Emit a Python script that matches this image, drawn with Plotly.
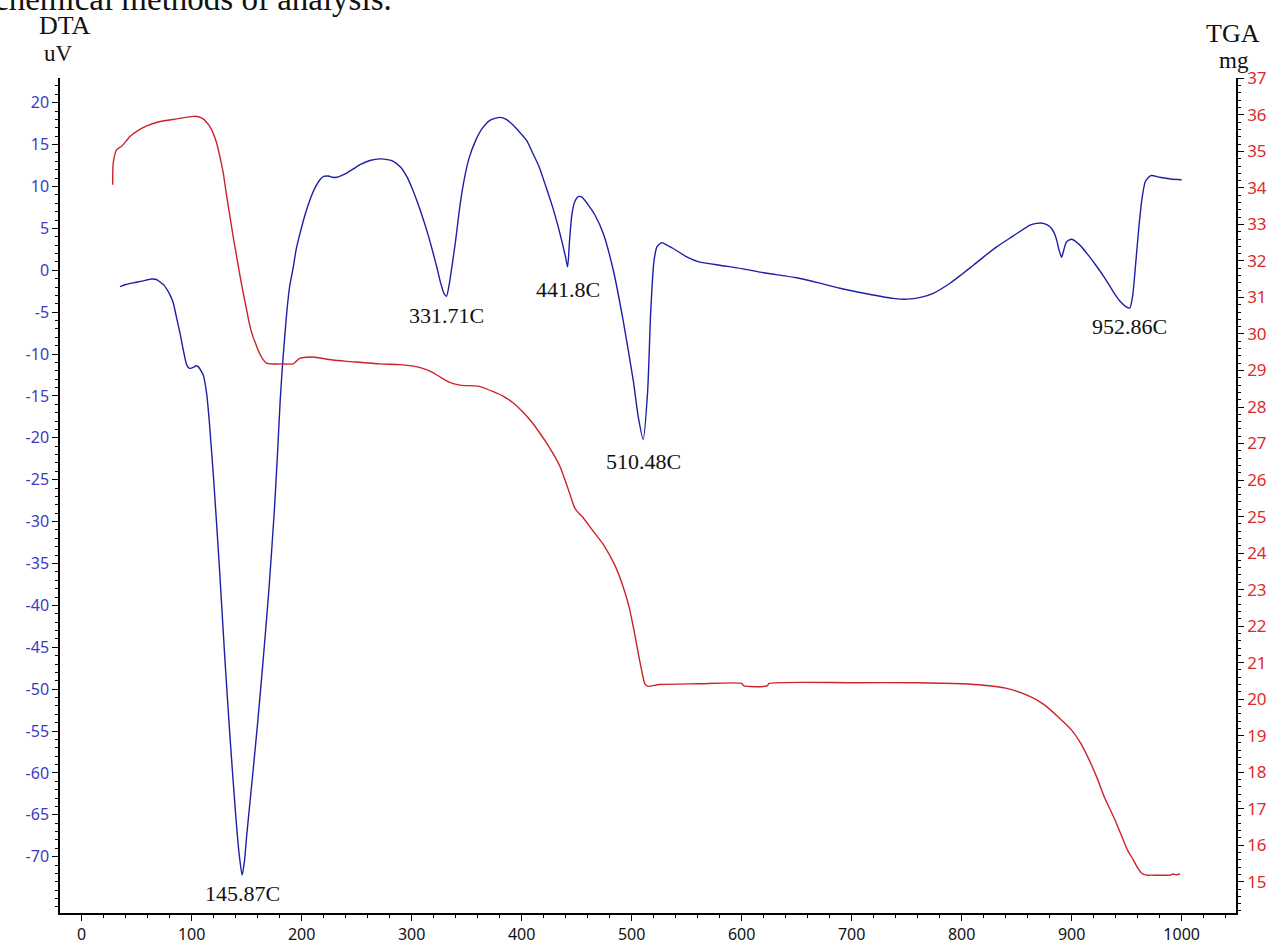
import plotly.graph_objects as go

# ---- DTA signal (uV) vs temperature (C) ----
dta_temp = [34.8, 40, 46.9, 55, 63.6, 68, 71.2, 75, 77.8, 80.5, 83.3, 86, 89.4, 92.5, 95.5, 98,
            101.5, 104, 106, 108.5, 110.5, 113.6, 116, 120, 125, 130, 135, 140, 143, 145.87,
            148, 150, 153, 156, 160, 165, 170, 175, 178, 180.5, 182.7, 186.4, 189, 192.4, 195,
            198.5, 203, 207.5, 212, 216.6, 220, 224.2, 228, 231.8, 236, 240.9, 247, 253, 262,
            271.2, 278, 283.3, 290, 295.5, 300, 305, 310, 315, 319, 323, 326.5, 329.5, 331.71,
            334, 337, 340, 344, 348, 352, 358.2, 364, 371.2, 380.3, 386, 392.4, 398, 404.5,
            410, 416, 422, 428, 433, 437, 440, 441.8, 443.5, 445.5, 448, 451.5, 455, 460,
            466.6, 474.2, 483.3, 492.4, 501.5, 506, 510.48, 514.5, 517.3, 520.2, 523, 527.3,
            532, 537.8, 550, 561.2, 580, 600, 620, 650, 670, 689.4, 713.6, 737.8, 750, 763.6,
            774.2, 789.4, 800, 810.6, 820, 831.8, 847, 862.1, 868, 874.2, 880.3, 884, 886.4,
            888.5, 890.9, 893, 895.4, 900, 907.5, 915.1, 922, 930, 938, 944, 949, 952.86,
            955.5, 958, 961, 964, 967, 972, 980, 990, 1000]
dta_uv = [-1.96, -1.7, -1.5, -1.3, -1.05, -1.1, -1.4, -1.8, -2.35, -3.0, -3.9, -5.5, -7.5, -9.6,
          -11.3, -11.7, -11.6, -11.4, -11.5, -12.0, -12.5, -14.7, -18, -25, -35, -46, -56, -65,
          -69.5, -72.2, -70.5, -67.5, -63.5, -59.5, -54, -46.5, -38.5, -29, -22, -15.5, -11.1,
          -5.1, -2, 0.4, 2.5, 4.4, 6.6, 8.4, 9.8, 10.8, 11.2, 11.25, 11.1, 11.1, 11.3, 11.6,
          12.1, 12.6, 13.1, 13.3, 13.2, 13.0, 12.3, 11.2, 9.9, 8.2, 6.3, 4.2, 2.3, 0.3, -1.6,
          -2.8, -3.1, -1.8, 0.8, 3.6, 7.8, 11.0, 13.3, 15.5, 16.9, 17.9, 18.25, 18.0, 17.3,
          16.5, 15.5, 14.0, 12.3, 10.0, 7.6, 5.3, 3.2, 1.5, 0.4, 3.5, 6.5, 8.1, 8.8, 8.7, 7.9,
          6.6, 4.4, 0.0, -6.1, -13.2, -17.5, -20.2, -14.5, -5.0, 1.0, 2.8, 3.3, 3.0, 2.6, 1.6,
          1.0, 0.6, 0.2, -0.3, -0.9, -1.5, -2.15, -2.8, -3.35, -3.45, -3.2, -2.75, -1.55, -0.5,
          0.6, 1.6, 2.8, 4.1, 5.4, 5.6, 5.6, 5.2, 4.5, 3.6, 2.4, 1.55, 2.5, 3.4, 3.7, 3.0,
          1.8, 0.6, -0.9, -2.6, -3.7, -4.3, -4.5, -3.0, 0.5, 5.0, 8.6, 10.6, 11.3, 11.1,
          10.9, 10.8]

# ---- TGA mass (mg) vs temperature (C) ----
tga_temp = [28.2, 28.7, 31.8, 36.4, 43.9, 50, 59.1, 71.2, 86.4, 101.5, 106, 110.5, 113.5,
            116.6, 119.5, 122.7, 125.7, 128.7, 131.7, 134.8, 137.8, 140.9, 143.9, 146.9, 150,
            153, 156, 159.1, 162, 165.1, 168, 171.2, 180, 192.4, 195, 198.5, 210.5, 225,
            240.9, 255, 271.2, 289.4, 301.5, 310, 318, 326, 334, 343.9, 356, 362.1,
            374.2, 383, 392.4, 400, 407.5, 415, 422.7, 429, 434.8, 439.4, 444, 448, 451, 455,
            465, 475, 485, 492, 497, 502, 506, 509, 512, 515, 525, 560, 600, 602, 623, 625,
            700, 760, 800, 820, 840, 860, 875, 890, 900, 908, 916, 923, 930, 939.4,
            946.9, 951, 956, 960, 963.6, 968, 972.7, 989.4, 992, 995, 998.4]
tga_mg = [34.09, 34.68, 35.05, 35.14, 35.41, 35.55, 35.7, 35.82, 35.89, 35.96, 35.95, 35.89,
          35.8, 35.68, 35.5, 35.23, 34.85, 34.41, 33.8, 33.22, 32.65, 32.12, 31.6, 31.12,
          30.65, 30.21, 29.9, 29.66, 29.45, 29.29, 29.2, 29.18, 29.18, 29.18, 29.25, 29.34,
          29.37, 29.3, 29.25, 29.22, 29.18, 29.16, 29.12, 29.06, 28.96, 28.82, 28.68, 28.6,
          28.58, 28.56, 28.42, 28.3, 28.11, 27.9, 27.65, 27.35, 27.01, 26.7, 26.37, 26.0,
          25.6, 25.25, 25.12, 25.0, 24.6, 24.2, 23.65, 23.1, 22.6, 21.9, 21.25, 20.8, 20.42,
          20.35, 20.4, 20.42, 20.43, 20.36, 20.36, 20.43, 20.45, 20.45, 20.42, 20.38,
          20.3, 20.1, 19.85, 19.45, 19.15, 18.8, 18.33, 17.85, 17.3, 16.69, 16.14, 15.85,
          15.6, 15.38, 15.23, 15.18, 15.18, 15.18, 15.21, 15.19, 15.21]

# ---- labelled DTA peaks ----
peak_temps = [145.87, 331.71, 441.8, 510.48, 952.86]
peak_labels = ["145.87C", "331.71C", "441.8C", "510.48C", "952.86C"]

# ---- axis ticks ----
x_ticks = list(range(0, 1001, 100))
dta_ticks = list(range(-70, 21, 5))
tga_ticks = list(range(15, 38))

BLUE = "#1f1fa6"
RED = "#cc2229"
BLUE_TXT = "#3b3bc4"
RED_TXT = "#dd2a2a"
SERIF = "Liberation Serif, Times New Roman, serif"
SANS = "Noto Sans, DejaVu Sans, sans-serif"

fig = go.Figure()
fig.add_trace(go.Scatter(x=dta_temp, y=dta_uv, mode="lines", yaxis="y",
                         line=dict(color=BLUE, width=1.4, shape="spline", smoothing=0.6),
                         hoverinfo="skip", showlegend=False))
fig.add_trace(go.Scatter(x=tga_temp, y=tga_mg, mode="lines", yaxis="y2",
                         line=dict(color=RED, width=1.4, shape="spline", smoothing=0.6),
                         hoverinfo="skip", showlegend=False))

# plot area in page pixels
L, R, T, B = 60, 1236, 78, 913
W, H = R - L, B - T


def px(x):
    return (x - L) / W


def py(y):
    return (B - y) / H


annotations = []
# peak labels, hung just below each minimum
gaps = [4, 5, 8, 7, 4]
for t, lab, g in zip(peak_temps, peak_labels, gaps):
    v = min(u for tt, u in zip(dta_temp, dta_uv) if abs(tt - t) < 0.01)
    annotations.append(dict(x=t, y=v, xref="x", yref="y", text=lab, showarrow=False,
                            xanchor="center", yanchor="top", yshift=-g,
                            font=dict(family=SERIF, size=22, color="#111111")))

# axis titles
for txt, cx, cy, sz in [("DTA", 64.5, 26, 26), ("uV", 58, 53, 23),
                        ("TGA", 1233, 34, 26), ("mg", 1234, 61, 23)]:
    annotations.append(dict(x=px(cx), y=py(cy), xref="paper", yref="paper", text=txt,
                            showarrow=False, xanchor="center", yanchor="middle",
                            font=dict(family=SERIF, size=sz, color="#111111")))

# caption running off the top edge
annotations.append(dict(x=px(394), y=py(-1), xref="paper", yref="paper",
                        text="chemical methods of analysis.", showarrow=False,
                        xanchor="right", yanchor="middle",
                        font=dict(family=SERIF, size=33, color="#111111")))

axis_common = dict(showgrid=False, zeroline=False, showline=True, linecolor="black",
                   linewidth=1.5, ticks="outside", ticklen=6, tickwidth=1.2,
                   tickcolor="black", automargin=False)

fig.update_layout(
    template="none",
    width=1275, height=948,
    margin=dict(l=L, r=1275 - R, t=T, b=948 - B, pad=0),
    paper_bgcolor="white", plot_bgcolor="white",
    annotations=annotations,
    xaxis=dict(range=[-19.7, 1049.4], tickvals=x_ticks, ticktext=[str(v) for v in x_ticks],
               minor=dict(dtick=20, tick0=0, ticks="outside", ticklen=3, tickwidth=1,
                          tickcolor="black", showgrid=False),
               tickfont=dict(family=SANS, size=16, color="#111111"), **axis_common),
    yaxis=dict(range=[-76.72, 22.95], tickvals=dta_ticks, ticktext=[str(v) for v in dta_ticks],
               minor=dict(dtick=1, tick0=0, ticks="outside", ticklen=3, tickwidth=1,
                          tickcolor="black", showgrid=False),
               tickfont=dict(family=SANS, size=16, color=BLUE_TXT), **axis_common),
    yaxis2=dict(range=[14.143, 37.01], overlaying="y", side="right", anchor="x",
                tickvals=tga_ticks, ticktext=[str(v) for v in tga_ticks],
                minor=dict(dtick=0.2, tick0=0, ticks="outside", ticklen=3, tickwidth=1,
                           tickcolor="black", showgrid=False),
                tickfont=dict(family=SANS, size=17, color=RED_TXT), **axis_common),
)

fig.write_html("out.html")
